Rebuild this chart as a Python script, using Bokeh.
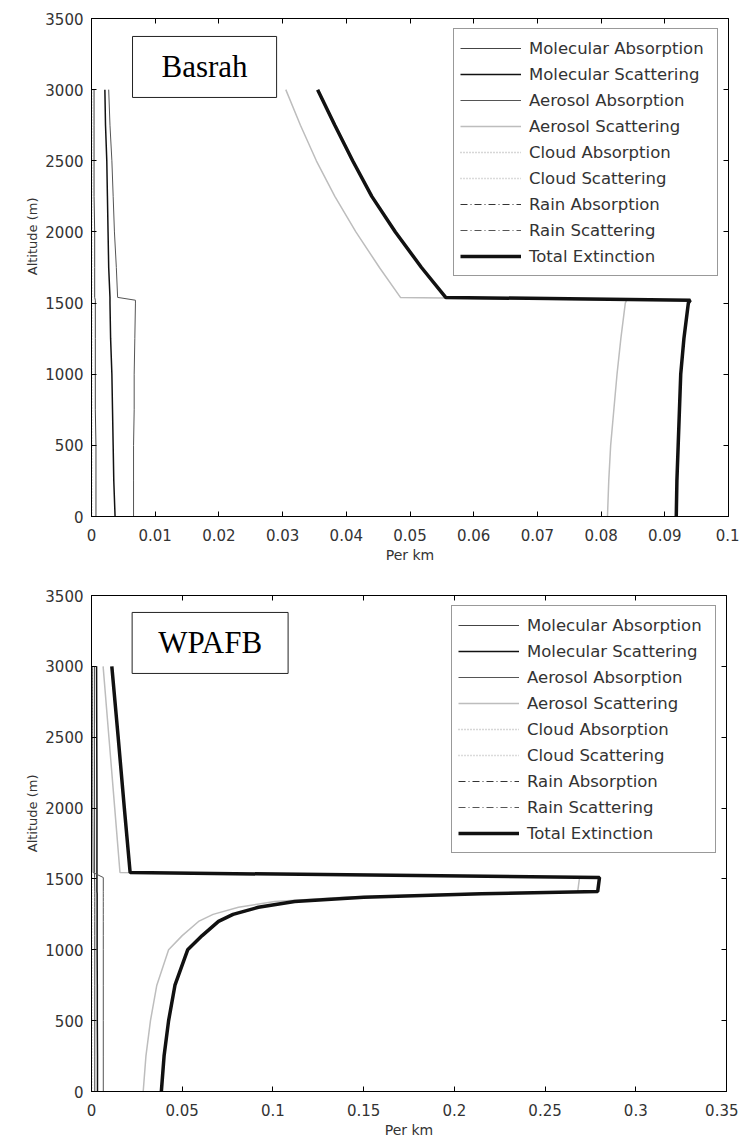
from bokeh.plotting import figure
from bokeh.models import (Range1d, LinearAxis, FixedTicker, Legend, LegendItem,
                          Label, Title, CustomJSTickFormatter)
from bokeh.layouts import column
from bokeh.embed import file_html
from bokeh.resources import INLINE

series_names = ["Molecular Absorption", "Molecular Scattering", "Aerosol Absorption",
                "Aerosol Scattering", "Cloud Absorption", "Cloud Scattering",
                "Rain Absorption", "Rain Scattering", "Total Extinction"]

# ---------------- Basrah ----------------
basrah_alt = [0, 250, 500, 750, 1000, 1250, 1500, 1520, 1540, 1750, 2000, 2250, 2500, 2750, 3000]
basrah_mol_abs = [0.0007, 0.0007, 0.0007, 0.0006, 0.0006, 0.0006, 0.0006, 0.0006,
                  0.0005, 0.0005, 0.0005, 0.0004, 0.0004, 0.0004, 0.0004]
basrah_mol_scat = [0.0037, 0.0035, 0.0034, 0.0033, 0.0032, 0.0030, 0.0029, 0.0029,
                   0.0029, 0.0027, 0.0026, 0.0025, 0.0024, 0.0022, 0.0021]
basrah_aer_abs = [0.0066, 0.0066, 0.0066, 0.0067, 0.0067, 0.0068, 0.0069, 0.0069,
                  0.0041, 0.0039, 0.0036, 0.0034, 0.0032, 0.0029, 0.0027]
basrah_aer_scat = [0.0810, 0.0812, 0.0815, 0.0820, 0.0825, 0.0831, 0.0838, 0.0840,
                   0.0485, 0.0452, 0.0415, 0.0382, 0.0353, 0.0328, 0.0305]
basrah_cloud_abs = [0.0] * 15
basrah_cloud_scat = [0.0] * 15
basrah_rain_abs = [0.0] * 15
basrah_rain_scat = [0.0] * 15
basrah_total = [0.0918, 0.0919, 0.0921, 0.0923, 0.0925, 0.0930, 0.0937, 0.0940,
                0.0556, 0.0518, 0.0477, 0.0440, 0.0410, 0.0382, 0.0355]

# ---------------- WPAFB ----------------
wpafb_alt = [0, 250, 500, 750, 1000, 1100, 1200, 1250, 1300, 1340, 1370, 1395, 1412,
             1510, 1545, 2000, 2500, 3000]
wpafb_mol_abs = [0.0018, 0.0018, 0.0018, 0.0018, 0.0018, 0.0018, 0.0018, 0.0018, 0.0018,
                 0.0018, 0.0018, 0.0018, 0.0018, 0.0017, 0.0017, 0.0017, 0.0016, 0.0016]
wpafb_mol_scat = [0.0033, 0.0033, 0.0032, 0.0032, 0.0031, 0.0031, 0.0031, 0.0031, 0.0031,
                  0.0031, 0.0031, 0.0031, 0.0030, 0.0030, 0.0030, 0.0030, 0.0029, 0.0028]
wpafb_aer_abs = [0.0065, 0.0065, 0.0065, 0.0065, 0.0065, 0.0065, 0.0065, 0.0065, 0.0065,
                 0.0065, 0.0065, 0.0065, 0.0065, 0.0065, 0.0009, 0.0007, 0.0006, 0.0005]
wpafb_aer_scat = [0.0285, 0.0300, 0.0325, 0.0360, 0.0425, 0.0500, 0.0590, 0.0670, 0.0810,
                  0.1010, 0.1390, 0.2040, 0.2680, 0.2690, 0.0157, 0.0128, 0.0096, 0.0064]
wpafb_cloud_abs = [0.0] * 18
wpafb_cloud_scat = [0.0] * 18
wpafb_rain_abs = [0.0] * 18
wpafb_rain_scat = [0.0] * 18
wpafb_total = [0.0385, 0.0400, 0.0425, 0.0460, 0.0530, 0.0610, 0.0700, 0.0780, 0.0920,
               0.1120, 0.1500, 0.2150, 0.2790, 0.2800, 0.0213, 0.0181, 0.0147, 0.0112]

# ---------------- ticks ----------------
basrah_x_ticks = [0, 0.01, 0.02, 0.03, 0.04, 0.05, 0.06, 0.07, 0.08, 0.09, 0.1]
basrah_x_labels = ["0", "0.01", "0.02", "0.03", "0.04", "0.05", "0.06", "0.07", "0.08", "0.09", "0.1"]
wpafb_x_ticks = [0, 0.05, 0.1, 0.15, 0.2, 0.25, 0.3, 0.35]
wpafb_x_labels = ["0", "0.05", "0.1", "0.15", "0.2", "0.25", "0.3", "0.35"]
y_ticks = [0, 500, 1000, 1500, 2000, 2500, 3000, 3500]
y_labels = ["0", "500", "1000", "1500", "2000", "2500", "3000", "3500"]

styles = {
    "Molecular Absorption": dict(line_color="#444444", line_width=1),
    "Molecular Scattering": dict(line_color="#111111", line_width=1.5),
    "Aerosol Absorption": dict(line_color="#555555", line_width=1),
    "Aerosol Scattering": dict(line_color="#bdbdbd", line_width=1.5),
    "Cloud Absorption": dict(line_color="#b0b0b0", line_width=1.5, line_dash="1 2"),
    "Cloud Scattering": dict(line_color="#b8b8b8", line_width=1.5, line_dash="1 2"),
    "Rain Absorption": dict(line_color="#333333", line_width=1, line_dash="7 3 1 3"),
    "Rain Scattering": dict(line_color="#555555", line_width=1, line_dash="7 3 1 3"),
    "Total Extinction": dict(line_color="#111111", line_width=3.5),
}

FONT = "DejaVu Sans"
TXT = "#333333"


def fmt(tick_vals, tick_labels):
    return CustomJSTickFormatter(args=dict(tv=tick_vals, tl=tick_labels), code="""
        for (let i = 0; i < tv.length; i++) {
            if (Math.abs(tv[i] - tick) < 1e-9) { return tl[i]; }
        }
        return '';
    """)


def make_plot(station, alt, series, x_max, x_ticks, x_labels, fw, fh, bl, bt, bb,
              lab_x, lab_y, lab_pad):
    p = figure(frame_width=fw, frame_height=fh,
               x_range=Range1d(0, x_max), y_range=Range1d(0, 3500),
               output_backend="svg", toolbar_location=None,
               min_border_left=bl, min_border_right=12,
               min_border_top=bt, min_border_bottom=bb)
    p.grid.visible = False
    p.outline_line_color = "black"
    p.outline_line_width = 1
    p.background_fill_color = "white"
    p.border_fill_color = "white"

    renderers = []
    for name, vals in zip(series_names, series):
        r = p.line(vals, alt, **styles[name])
        renderers.append(r)

    for ax in (p.xaxis[0], p.yaxis[0]):
        ax.major_tick_in = 5
        ax.major_tick_out = 0
        ax.minor_tick_line_color = None
        ax.axis_line_color = "black"
        ax.major_tick_line_color = "black"
        ax.major_label_text_font = FONT
        ax.major_label_text_font_size = "15px"
        ax.major_label_text_color = TXT
    p.xaxis.ticker = FixedTicker(ticks=x_ticks)
    p.xaxis.formatter = fmt(x_ticks, x_labels)
    p.xaxis.major_label_standoff = 12
    p.xaxis.axis_label = "Per km"
    p.xaxis.axis_label_standoff = 3
    p.xaxis.axis_label_text_font = FONT
    p.xaxis.axis_label_text_font_size = "14px"
    p.xaxis.axis_label_text_font_style = "normal"
    p.xaxis.axis_label_text_color = TXT

    p.yaxis.ticker = FixedTicker(ticks=y_ticks)
    p.yaxis.formatter = fmt(y_ticks, y_labels)
    p.yaxis.major_label_standoff = 8

    ytitle = Title(text="Altitude (m)", align="right", offset=179, standoff=6,
                   text_font=FONT, text_font_size="13px", text_font_style="normal",
                   text_color=TXT)
    p.add_layout(ytitle, "left")

    top_ax = LinearAxis(ticker=FixedTicker(ticks=x_ticks),
                        formatter=CustomJSTickFormatter(code="return '';"),
                        major_tick_in=5, major_tick_out=0, minor_tick_line_color=None,
                        axis_line_color=None, major_label_standoff=0)
    p.add_layout(top_ax, "above")
    right_ax = LinearAxis(ticker=FixedTicker(ticks=y_ticks),
                          formatter=CustomJSTickFormatter(code="return '';"),
                          major_tick_in=5, major_tick_out=0, minor_tick_line_color=None,
                          axis_line_color=None, major_label_standoff=0)
    p.add_layout(right_ax, "right")

    legend = Legend(items=[LegendItem(label=n, renderers=[r]) for n, r in zip(series_names, renderers)],
                    location="top_right", margin=10, padding=6, spacing=0,
                    glyph_width=61, glyph_height=26, label_height=26, label_standoff=8,
                    label_width=182,
                    label_text_font=FONT, label_text_font_size="16.5px",
                    label_text_color=TXT, border_line_color="#333333",
                    border_line_width=1, background_fill_color="white",
                    background_fill_alpha=1.0)
    p.add_layout(legend)

    lab = Label(x=lab_x, y=lab_y, text=station, text_font="Liberation Serif",
                text_font_size="31px", text_color="black", text_align="left",
                text_baseline="bottom", border_line_color="#222222",
                border_line_width=1, background_fill_color="white",
                padding=lab_pad)
    p.add_layout(lab)
    return p


p1 = make_plot("Basrah", basrah_alt,
               [basrah_mol_abs, basrah_mol_scat, basrah_aer_abs, basrah_aer_scat,
                basrah_cloud_abs, basrah_cloud_scat, basrah_rain_abs, basrah_rain_scat,
                basrah_total],
               0.1, basrah_x_ticks, basrah_x_labels, 637, 498, 90, 18, 48,
               0.00644, 2945, (29, 13))
p2 = make_plot("WPAFB", wpafb_alt,
               [wpafb_mol_abs, wpafb_mol_scat, wpafb_aer_abs, wpafb_aer_scat,
                wpafb_cloud_abs, wpafb_cloud_scat, wpafb_rain_abs, wpafb_rain_scat,
                wpafb_total],
               0.35, wpafb_x_ticks, wpafb_x_labels, 635, 496, 91, 30, 50,
               0.0224, 2950, (26, 13))

layout = column(p1, p2, spacing=0)
open("out.html", "w").write(file_html(layout, INLINE))
